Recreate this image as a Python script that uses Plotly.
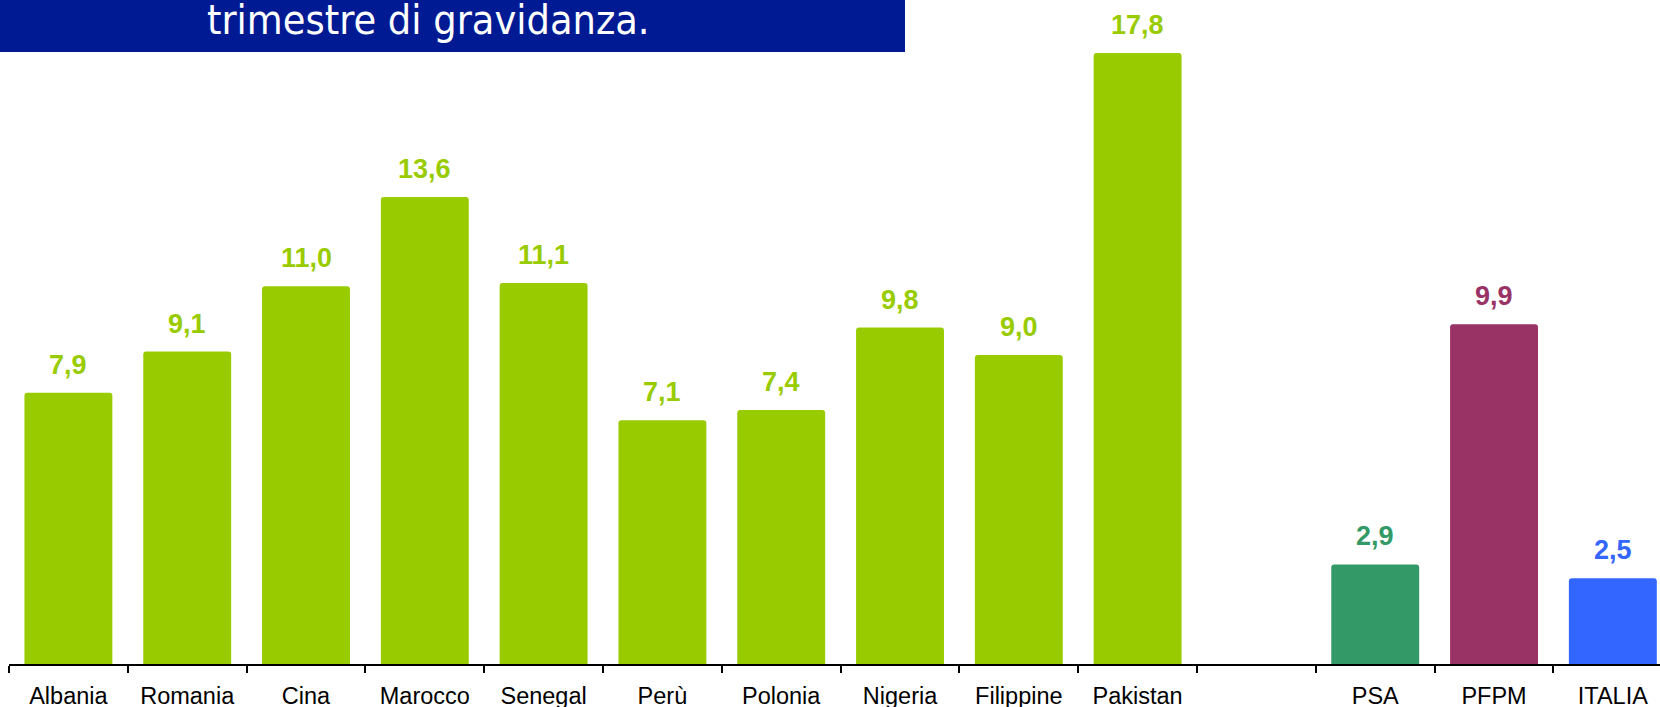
import plotly.graph_objects as go

categories = ["Albania", "Romania", "Cina", "Marocco", "Senegal", "Perù", "Polonia",
              "Nigeria", "Filippine", "Pakistan", " ", "PSA", "PFPM", "ITALIA"]
values = [7.9, 9.1, 11.0, 13.6, 11.1, 7.1, 7.4, 9.8, 9.0, 17.8, None, 2.9, 9.9, 2.5]
colors = ["#99CC00"] * 10 + ["#FFFFFF", "#339966", "#993366", "#3366FF"]
title_text = "trimestre di gravidanza."

W, H = 1660, 707
ML, MB = 9, 43

fig = go.Figure()
fig.add_trace(go.Bar(
    x=categories, y=values,
    marker=dict(color=colors, line=dict(width=0), cornerradius=3),
    width=0.74, hoverinfo="skip", showlegend=False,
))

for c, v, col in zip(categories, values, colors):
    if v is None:
        continue
    fig.add_annotation(
        x=c, y=v, xref="x", yref="y",
        text=f"{v:.1f}".replace(".", ","),
        showarrow=False, yanchor="bottom", yshift=11,
        font=dict(family="Liberation Sans, Arial, sans-serif", size=27, color=col, weight="bold"),
    )

# title box
plot_w = W - ML
plot_h = H - MB
fig.add_shape(type="rect", xref="paper", yref="paper",
              x0=(0 - ML) / plot_w, x1=(905 - ML) / plot_w,
              y0=(plot_h - 52) / plot_h, y1=1.02,
              fillcolor="#001A94", line=dict(width=0), layer="above")
fig.add_annotation(
    xref="paper", yref="paper", x=(205 - ML) / plot_w, y=(plot_h - 46) / plot_h,
    xanchor="left", yanchor="bottom", text=title_text, showarrow=False,
    font=dict(family="DejaVu Sans Condensed, DejaVu Sans, sans-serif", size=41, color="#FFFFFF"),
)

fig.update_layout(
    width=W, height=H,
    margin=dict(l=ML, r=0, t=0, b=MB, pad=0, autoexpand=False),
    paper_bgcolor="#FFFFFF", plot_bgcolor="#FFFFFF",
    bargap=0.26,
    xaxis=dict(
        type="category", categoryorder="array", categoryarray=categories,
        range=[-0.5, 13.397], showgrid=False, zeroline=False, automargin=False,
        showline=True, linecolor="#000000", linewidth=2,
        ticks="outside", tickson="boundaries", ticklen=7, tickwidth=1.5, tickcolor="#000000",
        tickfont=dict(family="Liberation Sans, Arial, sans-serif", size=23.5, color="#000000"),
        ticklabelstandoff=10,
    ),
    yaxis=dict(range=[0, plot_h / 34.33], visible=False, showgrid=False, zeroline=False,
               automargin=False),
)

fig.write_html("out.html", config={"displayModeBar": False},
               post_script="document.body.style.margin='0';document.body.style.overflow='hidden';")
